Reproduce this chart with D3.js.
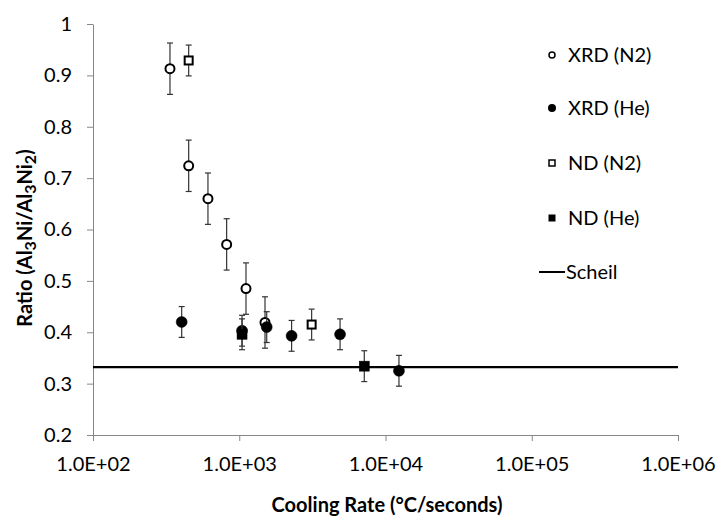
<!DOCTYPE html>
<html><head><meta charset="utf-8">
<script src="https://cdn.jsdelivr.net/npm/d3@7"></script>
<style>body{margin:0;background:#fff}svg{display:block}text{font-family:Lato,"Open Sans",sans-serif;fill:#000}</style>
</head><body><svg id="c" width="717" height="520"></svg>
<script>
// ---- data ----
const xTickValues = [1e2, 1e3, 1e4, 1e5, 1e6];
const xTickLabels = ["1.0E+02", "1.0E+03", "1.0E+04", "1.0E+05", "1.0E+06"];
const yTickValues = [0.2, 0.3, 0.4, 0.5, 0.6, 0.7, 0.8, 0.9, 1];
const yTickLabels = ["0.2", "0.3", "0.4", "0.5", "0.6", "0.7", "0.8", "0.9", "1"];

const xrdN2Rate = [336, 451, 611, 820, 1112, 1500];
const xrdN2Ratio = [0.913, 0.724, 0.660, 0.571, 0.485, 0.419];
const xrdN2Err = [0.05, 0.05, 0.05, 0.05, 0.05, 0.05];

const xrdHeRate = [404, 1045, 1541, 2280, 4890, 12360];
const xrdHeRatio = [0.420, 0.403, 0.410, 0.393, 0.396, 0.325];
const xrdHeErr = [0.03, 0.03, 0.03, 0.03, 0.03, 0.03];

const ndN2Rate = [451, 3126];
const ndN2Ratio = [0.929, 0.415];
const ndN2Err = [0.03, 0.03];

const ndHeRate = [1045, 7160];
const ndHeRatio = [0.396, 0.334];
const ndHeErr = [0.03, 0.03];

const scheilRatio = 0.332;
const seriesNames = ["XRD (N2)", "XRD (He)", "ND (N2)", "ND (He)", "Scheil"];

// ---- layout ----
const svg = d3.select("#c");
const L = 93, R = 678, T = 24, B = 435;
const x = d3.scaleLog().domain([1e2, 1e6]).range([L, R]);
const y = d3.scaleLinear().domain([0.2, 1]).range([B, T]);
const axisColor = "#868686";
const FS = "20px";

// axes
const xAxis = svg.append("g").attr("transform", `translate(0,${B})`)
  .call(d3.axisBottom(x).tickValues(xTickValues).tickFormat((d, i) => xTickLabels[i]).tickSizeInner(6).tickSizeOuter(0).tickPadding(16));
const yAxis = svg.append("g").attr("transform", `translate(${L},0)`)
  .call(d3.axisLeft(y).tickValues(yTickValues).tickFormat((d, i) => yTickLabels[i]).tickSizeInner(6).tickSizeOuter(0).tickPadding(15));
[xAxis, yAxis].forEach(g => {
  g.select(".domain").attr("stroke", axisColor).attr("stroke-width", 1);
  g.selectAll(".tick line").attr("stroke", axisColor);
  g.selectAll(".tick text").style("font-size", FS).attr("fill", "#000");
});

// series
function series(rates, ratios, errs, shape, filled) {
  const g = svg.append("g");
  const data = rates.map((r, i) => ({r, v: ratios[i], e: errs[i]}));
  const eb = g.selectAll("g.eb").data(data).join("g").attr("stroke", "#333").attr("stroke-width", 1.2);
  eb.append("line").attr("x1", d => x(d.r)).attr("x2", d => x(d.r)).attr("y1", d => y(d.v - d.e)).attr("y2", d => y(d.v + d.e));
  eb.append("line").attr("x1", d => x(d.r) - 3).attr("x2", d => x(d.r) + 3).attr("y1", d => y(d.v + d.e)).attr("y2", d => y(d.v + d.e));
  eb.append("line").attr("x1", d => x(d.r) - 3).attr("x2", d => x(d.r) + 3).attr("y1", d => y(d.v - d.e)).attr("y2", d => y(d.v - d.e));
  if (shape === "circle") {
    g.selectAll("circle").data(data).join("circle")
      .attr("cx", d => x(d.r)).attr("cy", d => y(d.v)).attr("r", filled ? 5.5 : 4.5)
      .attr("fill", filled ? "#000" : "#fff").attr("stroke", "#000").attr("stroke-width", filled ? 0.5 : 2);
  } else {
    const s = filled ? 10 : 8;
    g.selectAll("rect").data(data).join("rect")
      .attr("x", d => x(d.r) - s / 2).attr("y", d => y(d.v) - s / 2).attr("width", s).attr("height", s)
      .attr("fill", filled ? "#000" : "#fff").attr("stroke", "#000").attr("stroke-width", filled ? 0.5 : 2);
  }
}
series(xrdN2Rate, xrdN2Ratio, xrdN2Err, "circle", false);
series(xrdHeRate, xrdHeRatio, xrdHeErr, "circle", true);
series(ndN2Rate, ndN2Ratio, ndN2Err, "square", false);
series(ndHeRate, ndHeRatio, ndHeErr, "square", true);

// Scheil line
svg.append("line").attr("x1", x(1e2)).attr("x2", x(1e6)).attr("y1", y(scheilRatio)).attr("y2", y(scheilRatio))
  .attr("stroke", "#000").attr("stroke-width", 2.2);

// axis titles
svg.append("text").attr("x", 387).attr("y", 512).attr("text-anchor", "middle")
  .style("font-size", FS).style("font-weight", "bold").text("Cooling Rate (°C/seconds)");
const yt = svg.append("text").attr("transform", `translate(32,238) rotate(-90)`).attr("text-anchor", "middle")
  .style("font-size", FS).style("font-weight", "bold");
[["Ratio (Al", 0], ["3", 1], ["Ni/Al", 0], ["3", 1], ["Ni", 0], ["2", 1], [")", 0]].forEach(([t, sub]) => {
  const ts = yt.append("tspan").text(t);
  if (sub) ts.attr("baseline-shift", "-25%").style("font-size", "16px");
});

// legend
const legY = [55, 108, 163, 218, 272];
const lg = svg.append("g");
seriesNames.forEach((name, i) => {
  const cy = legY[i];
  if (i === 0) lg.append("circle").attr("cx", 552).attr("cy", cy).attr("r", 3).attr("fill", "#fff").attr("stroke", "#000").attr("stroke-width", 1.5);
  if (i === 1) lg.append("circle").attr("cx", 552).attr("cy", cy).attr("r", 4).attr("fill", "#000");
  if (i === 2) lg.append("rect").attr("x", 549).attr("y", cy - 3).attr("width", 6).attr("height", 6).attr("fill", "#fff").attr("stroke", "#000").attr("stroke-width", 1.5);
  if (i === 3) lg.append("rect").attr("x", 548.5).attr("y", cy - 3.5).attr("width", 7).attr("height", 7).attr("fill", "#000");
  if (i === 4) lg.append("line").attr("x1", 539).attr("x2", 565).attr("y1", cy).attr("y2", cy).attr("stroke", "#000").attr("stroke-width", 2);
  lg.append("text").attr("x", i === 4 ? 566 : 568).attr("y", cy).attr("dy", "0.35em").style("font-size", FS).text(name);
});
</script></body></html>
